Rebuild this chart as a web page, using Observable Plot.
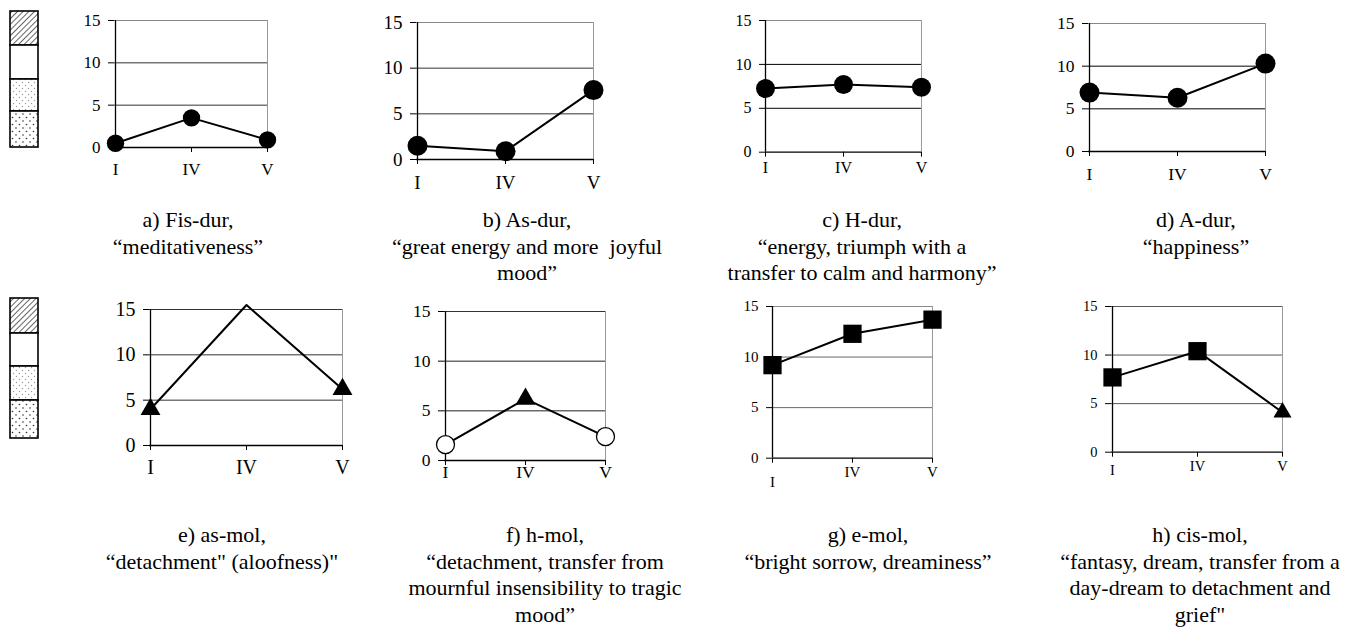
<!DOCTYPE html>
<html><head><meta charset="utf-8">
<script src="https://cdn.jsdelivr.net/npm/d3@7"></script>
<script src="https://cdn.jsdelivr.net/npm/@observablehq/plot@0.6"></script>
<style>
html,body{margin:0;padding:0;background:#fff;}
body{width:1365px;height:628px;position:relative;overflow:hidden;font-family:'Liberation Serif','DejaVu Serif',serif;}
.panel{position:absolute;}
.panel svg{overflow:visible;}
.cap{position:absolute;transform:translateX(-50%);text-align:center;white-space:nowrap;font-family:'Liberation Serif','Times New Roman',serif;font-size:22px;line-height:26.5px;color:#000;}
#legend{position:absolute;left:0;top:0;}
</style></head><body>
<script>
// ---- data ----
const categories = ["I", "IV", "V"];
const yTicks = [0, 5, 10, 15];
const gridLevels = [5, 10];
const topLevel = [15];

const valuesA = [0.5, 3.5, 0.9];
const valuesB = [1.5, 0.9, 7.6];
const valuesC = [7.25, 7.7, 7.4];
const valuesD = [6.9, 6.3, 10.3];
const valuesE = [4.0, 15.5, 6.2];
const valuesF = [1.6, 6.2, 2.4];
const valuesG = [9.2, 12.3, 13.7];
const valuesH = [7.7, 10.4, 4.1];

const markersA = ["circle", "circle", "circle"];
const markersB = ["circle", "circle", "circle"];
const markersC = ["circle", "circle", "circle"];
const markersD = ["circle", "circle", "circle"];
const markersE = ["triangle", "none", "triangle"];
const markersF = ["open", "triangle", "open"];
const markersG = ["square", "square", "square"];
const markersH = ["square", "square", "triangle"];

const captionA = ["a) Fis-dur,", "\u201cmeditativeness\u201d"];
const captionB = ["b) As-dur,", "\u201cgreat energy and more\u00a0 joyful", "mood\u201d"];
const captionC = ["c) H-dur,", "\u201cenergy, triumph with a", "transfer to calm and harmony\u201d"];
const captionD = ["d) A-dur,", "\u201chappiness\u201d"];
const captionE = ["e) as-mol,", "\u201cdetachment\" (aloofness)\""];
const captionF = ["f) h-mol,", "\u201cdetachment, transfer from", "mournful insensibility to tragic", "mood\u201d"];
const captionG = ["g) e-mol,", "\u201cbright sorrow, dreaminess\u201d"];
const captionH = ["h) cis-mol,", "\u201cfantasy, dream, transfer from a", "day-dream to detachment and", "grief\""];

const legendPatterns = ["hatch", "blank", "lightDots", "dots"];

// ---- layout (positions / styles) ----
const panels = [
  {values: valuesA, markers: markersA, caption: captionA, ax: 114, rx: 267, ty: 20, zy: 147, fs: 17, padI: 10.5, padO: 10.5, grid: "#333", top: "#888", r: {circle: 8.7}, cx: 188, cy: 207},
  {values: valuesB, markers: markersB, caption: captionB, ax: 416, rx: 593, ty: 22, zy: 159, fs: 19, padI: 10.5, padO: 10.5, grid: "#333", top: "#888", r: {circle: 10}, cx: 527, cy: 207},
  {values: valuesC, markers: markersC, caption: captionC, ax: 765, rx: 921, ty: 20, zy: 151.7, fs: 16, padI: 4, padO: 4, grid: "#000", top: "#888", r: {circle: 9.5}, cx: 862, cy: 207},
  {values: valuesD, markers: markersD, caption: captionD, ax: 1088, rx: 1265, ty: 22.7, zy: 150.7, fs: 17.5, padI: 11.5, padO: 11.5, grid: "#000", top: "#888", r: {circle: 10}, cx: 1196, cy: 207},
  {values: valuesE, markers: markersE, caption: captionE, ax: 149, rx: 342, ty: 309, zy: 445, fs: 20, padI: 9, padO: 9, grid: "#333", top: "#333", r: {triangle: 7.4}, cx: 222, cy: 522},
  {values: valuesF, markers: markersF, caption: captionF, ax: 444, rx: 605, ty: 311, zy: 460, fs: 17.5, padI: 0.5, padO: 0.5, grid: "#222", top: "#333", r: {open: 9, triangle: 7.4}, cx: 545, cy: 522},
  {values: valuesG, markers: markersG, caption: captionG, ax: 771.7, rx: 932, ty: 306, zy: 457.7, fs: 15, padI: 13, padO: 3.3, grid: "#666", top: "#888", r: {square: 10.3}, cx: 868, cy: 522},
  {values: valuesH, markers: markersH, caption: captionH, ax: 1110.7, rx: 1281.7, ty: 306, zy: 451.7, fs: 14.5, padI: 7.8, padO: 3.5, grid: "#555", top: "#555", r: {square: 10.3, triangle: 6.7}, cx: 1200, cy: 522}
];

const ML = 45, MR = 25, MT = 20, MB = 40;

for (const p of panels) {
  const rows = categories.map((c, i) => ({cat: c, value: p.values[i], marker: p.markers[i]}));
  const W = (p.rx - p.ax) + ML + MR;
  const H = (p.zy - p.ty) + MT + MB;
  const dotMarks = [];
  const byType = t => rows.filter(d => d.marker === t);
  if (p.r.circle) dotMarks.push(Plot.dot(byType("circle"), {x: "cat", y: "value", r: p.r.circle, fill: "#000", stroke: "none"}));
  if (p.r.open) dotMarks.push(Plot.dot(byType("open"), {x: "cat", y: "value", r: p.r.open, fill: "#fff", stroke: "#000", strokeWidth: 1.3}));
  if (p.r.triangle) dotMarks.push(Plot.dot(byType("triangle"), {x: "cat", y: "value", r: p.r.triangle, symbol: "triangle", fill: "#000", stroke: "none"}));
  if (p.r.square) dotMarks.push(Plot.dot(byType("square"), {x: "cat", y: "value", r: p.r.square, symbol: "square", fill: "#000", stroke: "none"}));

  const chart = Plot.plot({
    width: W, height: H,
    marginLeft: ML, marginRight: MR, marginTop: MT, marginBottom: MB,
    style: {fontFamily: "'Liberation Serif', serif", fontSize: p.fs + "px", color: "#000", background: "transparent", overflow: "visible"},
    x: {type: "point", domain: categories, padding: 0, label: null},
    y: {domain: [0, 15], label: null},
    marks: [
      Plot.ruleY(gridLevels, {stroke: p.grid, strokeWidth: 1}),
      Plot.ruleY(topLevel, {stroke: p.top, strokeWidth: 1}),
      Plot.ruleX([categories[2]], {y1: 0, y2: 15, stroke: "#999", strokeWidth: 1}),
      Plot.ruleY([0], {stroke: "#000", strokeWidth: 1.3}),
      Plot.ruleX([categories[0]], {y1: 0, y2: 15, stroke: "#000", strokeWidth: 1.3}),
      Plot.axisY(yTicks, {tickSize: 6, tickPadding: 8, fontSize: p.fs, label: null, stroke: "#000"}),
      Plot.axisX([categories[0]], {tickSize: 5, tickPadding: p.padI, fontSize: p.fs, label: null, stroke: "#000"}),
      Plot.axisX(categories.slice(1), {tickSize: 5, tickPadding: p.padO, fontSize: p.fs, label: null, stroke: "#000"}),
      Plot.line(rows, {x: "cat", y: "value", stroke: "#000", strokeWidth: 2}),
      ...dotMarks
    ]
  });
  const div = document.createElement("div");
  div.className = "panel";
  div.style.left = (p.ax - ML) + "px";
  div.style.top = (p.ty - MT) + "px";
  div.appendChild(chart);
  document.body.appendChild(div);

  const cap = document.createElement("div");
  cap.className = "cap";
  cap.style.left = p.cx + "px";
  cap.style.top = p.cy + "px";
  p.caption.forEach((line, i) => {
    if (i) cap.appendChild(document.createElement("br"));
    cap.appendChild(document.createTextNode(line));
  });
  document.body.appendChild(cap);
}

// ---- pattern legend boxes ----
const legendSets = [
  {x: 10, w: 28, edges: [11, 45, 79, 111, 147]},
  {x: 10, w: 28, edges: [298, 333, 366, 400, 438]}
];
const svg = d3.select("body").append("svg").attr("id", "legend").attr("width", 60).attr("height", 628);
const defs = svg.append("defs");
const hatch = defs.append("pattern").attr("id", "hatch").attr("patternUnits", "userSpaceOnUse").attr("width", 4).attr("height", 4).attr("patternTransform", "rotate(45)");
hatch.append("rect").attr("width", 4).attr("height", 4).attr("fill", "#fff");
hatch.append("line").attr("x1", 0).attr("y1", 0).attr("x2", 0).attr("y2", 4).attr("stroke", "#555").attr("stroke-width", 1.8);
const ld = defs.append("pattern").attr("id", "lightDots").attr("patternUnits", "userSpaceOnUse").attr("width", 6).attr("height", 6);
ld.append("rect").attr("width", 6).attr("height", 6).attr("fill", "#fff");
ld.append("circle").attr("cx", 1.5).attr("cy", 1.5).attr("r", 0.7).attr("fill", "#999");
ld.append("circle").attr("cx", 4.5).attr("cy", 4.5).attr("r", 0.7).attr("fill", "#999");
const dd = defs.append("pattern").attr("id", "dots").attr("patternUnits", "userSpaceOnUse").attr("width", 7).attr("height", 7);
dd.append("rect").attr("width", 7).attr("height", 7).attr("fill", "#fff");
dd.append("circle").attr("cx", 2).attr("cy", 2).attr("r", 0.8).attr("fill", "#333");
dd.append("circle").attr("cx", 5.5).attr("cy", 5.5).attr("r", 0.8).attr("fill", "#333");
for (const s of legendSets) {
  legendPatterns.forEach((pat, i) => {
    svg.append("rect").attr("x", s.x).attr("y", s.edges[i]).attr("width", s.w).attr("height", s.edges[i + 1] - s.edges[i])
      .attr("fill", pat === "blank" ? "#fff" : `url(#${pat})`).attr("stroke", "#000").attr("stroke-width", 1.6);
  });
}
</script>
</body></html>
